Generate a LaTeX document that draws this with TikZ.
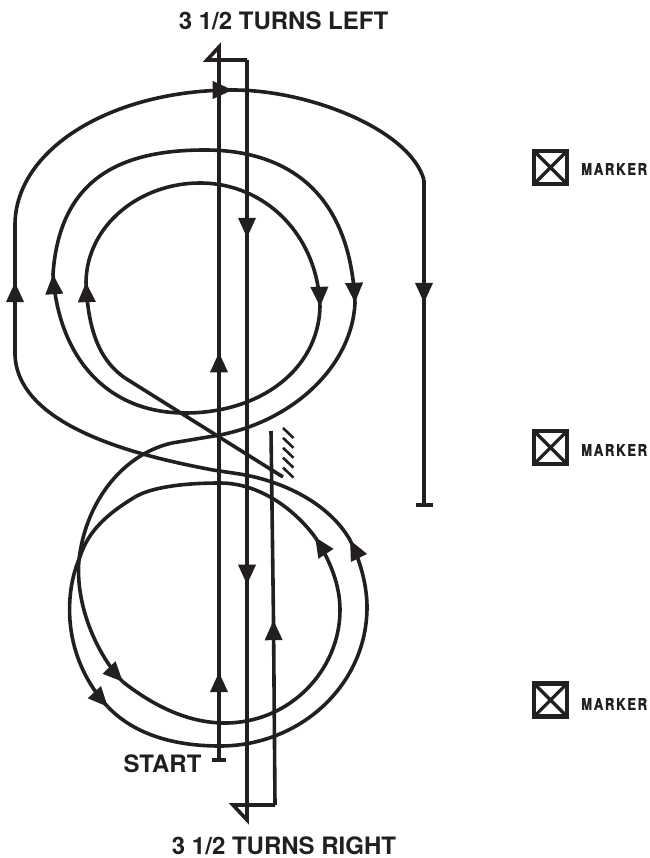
\documentclass[tikz,border=0pt]{standalone}
\usepackage{fontspec}
\setmainfont{TeX Gyre Heros}
\newfontfamily\markerfont[FakeStretch=0.82,LetterSpace=10.5,FakeBold=1]{TeX Gyre Heros}
\usetikzlibrary{arrows.meta, calc, decorations.markings}
\definecolor{inkblack}{RGB}{35, 31, 32}

\begin{document}
\begin{tikzpicture}[
    x=1pt, y=-1pt,
    flow/.style={draw=inkblack, line width=3.6pt},
    headed/.style={flow, postaction={decorate}, decoration={markings,
                   mark=at position 0.999 with {\arrow[inkblack]{Triangle[length=20pt, width=17pt]}}}},
    tick/.style={draw=inkblack, line width=3.6pt},
    caption/.style={font=\fontsize{24}{24}\selectfont\bfseries, text=inkblack, inner sep=0pt},
    markerbox/.style={draw=inkblack, line width=4.2pt, minimum size=33pt, inner sep=0pt,
                      path picture={\draw[inkblack, line width=3.2pt]
                        (path picture bounding box.north west) -- (path picture bounding box.south east)
                        (path picture bounding box.north east) -- (path picture bounding box.south west);}},
    markertext/.style={font=\markerfont\fontsize{16}{16}\selectfont\bfseries, text=inkblack,
                       inner sep=0pt, anchor=west}
]
    \useasboundingbox (0,0) rectangle (649,858);

    % labels
    \node[caption] (leftlabel) at (283.5,21) {3 1/2 TURNS LEFT};
    \node[caption] (rightlabel) at (284,845.5) {3 1/2 TURNS RIGHT};
    \node[caption] (startlabel) at (162.5,764) {START};

    % markers
    \node[markerbox] (markerA) at (550.5,167.5) {};
    \node[markerbox] (markerB) at (550.5,447.5) {};
    \node[markerbox] (markerC) at (550.5,700) {};
    \node[markertext] (textA) at (581,169) {MARKER};
    \node[markertext] (textB) at (581,450) {MARKER};
    \node[markertext] (textC) at (581,704) {MARKER};

    % straight runs
    \coordinate (start) at (219,760);
    \coordinate (upA) at (219,672);
    \coordinate (upB) at (219,352);
    \coordinate (apexL) at (219,47);
    \coordinate (backL) at (207,60);
    \coordinate (cornerL) at (247,60);
    \coordinate (downA) at (247,238);
    \coordinate (downB) at (247,585);
    \coordinate (apexR) at (247,820);
    \coordinate (backR) at (233,805);
    \coordinate (cornerR) at (275,805);
    \coordinate (upC) at (273.5,620);
    \coordinate (finish) at (271,431);

    \draw[tick] (212,760) -- (226,760);
    \draw[headed] (start) -- (upA);
    \draw[headed] (upA) -- (upB);
    \draw[flow] (upB) -- (apexL) -- (backL) -- (cornerL);
    \draw[headed] (cornerL) -- (downA);
    \draw[headed] (downA) -- (downB);
    \draw[flow] (downB) -- (apexR) -- (backR) -- (cornerR);
    \draw[headed] (cornerR) -- (upC);
    \draw[flow] (upC) -- (finish);

    % hatching
    \foreach \i in {0,...,4}
        \draw[inkblack, line width=2.6pt] (283,{428+9.9*\i}) -- (293.5,{438+9.9*\i});

    % upper loops
    \coordinate (hatchend) at (283,477);
    \coordinate (bend) at (125,378);
    \coordinate (loopA) at (86,282);
    \coordinate (topA) at (200,183);
    \coordinate (loopB) at (320,307);
    \coordinate (midA) at (185,413);
    \coordinate (loopC) at (53,274);
    \coordinate (topB) at (205,150);
    \coordinate (loopD) at (355,303);
    \coordinate (crossA) at (220,435);
    \coordinate (crossB) at (172,443);

    \draw[flow] (hatchend) -- (bend);
    \draw[headed] (bend) .. controls (102,362) and (88,335) .. (loopA);
    \draw[flow] (loopA) .. controls (87,225) and (140,183) .. (topA);
    \draw[headed] (topA) .. controls (265,183) and (318,235) .. (loopB);
    \draw[flow] (loopB) .. controls (318,370) and (260,413) .. (midA);
    \draw[headed] (midA) .. controls (105,413) and (58,355) .. (loopC);
    \draw[flow] (loopC) .. controls (60,175) and (125,150) .. (topB);
    \draw[headed] (topB) .. controls (285,150) and (350,190) .. (loopD);
    \draw[flow] (loopD) .. controls (352,365) and (295,420) .. (crossA) -- (crossB);

    % lower loops
    \coordinate (sideA) at (79,560);
    \coordinate (lowA) at (123,682);
    \coordinate (botA) at (225,723);
    \coordinate (sideB) at (340,610);
    \coordinate (lowB) at (315,537);
    \coordinate (midB) at (220,483);
    \coordinate (midC) at (135,497);
    \coordinate (sideC) at (80,557);
    \coordinate (lowC) at (108,707);
    \coordinate (botB) at (220,746);
    \coordinate (sideD) at (367,607);
    \coordinate (lowD) at (350,540);
    \coordinate (crossC) at (233,473);
    \coordinate (crossD) at (213,470);
    \coordinate (sideE) at (15,355);
    \coordinate (loopE) at (15,282);
    \coordinate (sideF) at (15,225);
    \coordinate (topC) at (233,90);
    \coordinate (sideG) at (424,180);
    \coordinate (loopF) at (424,303);
    \coordinate (stop) at (424,505);

    \draw[flow] (crossB) .. controls (120,455) and (85,505) .. (sideA);
    \draw[headed] (sideA) .. controls (75,605) and (97,655) .. (lowA);
    \draw[flow] (lowA) .. controls (150,703) and (185,723) .. (botA);
    \draw[flow] (botA) .. controls (290,723) and (340,670) .. (sideB);
    \draw[headed] (sideB) .. controls (340,585) and (330,560) .. (lowB);
    \draw[flow] (lowB) .. controls (295,510) and (260,483) .. (midB);
    \draw[flow] (midB) .. controls (180,483) and (150,488) .. (midC);
    \draw[flow] (midC) .. controls (110,512) and (88,530) .. (sideC);
    \draw[headed] (sideC) .. controls (65,590) and (60,655) .. (lowC);
    \draw[flow] (lowC) .. controls (135,735) and (175,746) .. (botB);
    \draw[flow] (botB) .. controls (300,746) and (367,685) .. (sideD);
    \draw[headed] (sideD) .. controls (367,585) and (360,560) .. (lowD);
    \draw[flow] (lowD) .. controls (330,505) and (285,480) .. (crossC) -- (crossD);
    \draw[flow] (crossD) .. controls (150,458) and (18,430) .. (sideE);
    \draw[headed] (sideE) -- (loopE);
    \draw[flow] (loopE) -- (sideF);
    \draw[headed] (sideF) .. controls (15,150) and (110,90) .. (topC);
    \draw[flow] (topC) .. controls (310,90) and (410,130) .. (sideG);
    \draw[headed] (sideG) -- (loopF);
    \draw[flow] (loopF) -- (stop);
    \draw[tick] (416,505) -- (433,505);
\end{tikzpicture}
\end{document}
